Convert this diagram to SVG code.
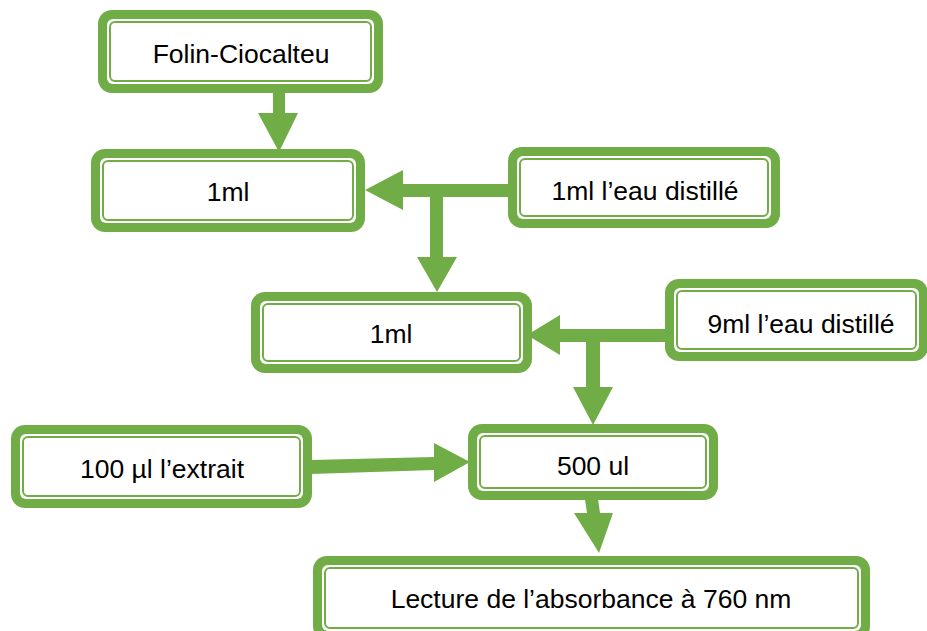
<svg xmlns="http://www.w3.org/2000/svg" width="927" height="631" viewBox="0 0 927 631">
<style>
.o{fill:#70AD47}
.w{fill:#ffffff}
.i{fill:#ffffff;stroke:#70AD47;stroke-width:2}
.c{fill:#70AD47}
text{font-family:"Liberation Sans",Arial,sans-serif;font-size:26.5px;fill:#000;text-anchor:middle}
</style>
<rect width="927" height="631" fill="#ffffff"/>
<g id="connectors">
<polygon class="c" points="273,92 285,92 285,113 298,113 279,152 258,113 273,113"/>
<polygon class="c" points="509,184 509,197 403,197 403,210 365,190 403,170 403,184"/>
<polygon class="c" points="430,190 443,190 443,257 457,257 437,292 417,257 430,257"/>
<polygon class="c" points="666,329 666,342 560,342 560,355 527,335 560,315 560,329"/>
<polygon class="c" points="586,335 600,335 600,387 613,387 593,425 573,387 586,387"/>
<polygon class="c" points="311,460 434,457 434,443 470,462 434,482 434,470 311,474"/>
<polygon class="c" points="585,499 598,499 600,513 613,513 599,553 574,513 587,513"/>
</g>
<g id="n1">
<rect class="o" x="98" y="10" width="285" height="83" rx="14"/>
<rect class="w" x="107" y="19" width="267" height="65" rx="6"/>
<rect class="i" x="110" y="22" width="261" height="59" rx="5"/>
<text x="241" y="63">Folin-Ciocalteu</text>
</g>
<g id="n2">
<rect class="o" x="91" y="149" width="274" height="83" rx="14"/>
<rect class="w" x="100" y="158" width="256" height="65" rx="6"/>
<rect class="i" x="103" y="161" width="250" height="59" rx="5"/>
<text x="228" y="201">1ml</text>
</g>
<g id="n3">
<rect class="o" x="508" y="147" width="272" height="81" rx="14"/>
<rect class="w" x="517" y="156" width="254" height="63" rx="6"/>
<rect class="i" x="520" y="159" width="248" height="57" rx="5"/>
<text x="645" y="200">1ml l’eau distillé</text>
</g>
<g id="n4">
<rect class="o" x="251" y="292" width="281" height="81" rx="14"/>
<rect class="w" x="260" y="301" width="263" height="63" rx="6"/>
<rect class="i" x="263" y="304" width="257" height="57" rx="5"/>
<text x="391" y="343">1ml</text>
</g>
<g id="n5">
<rect class="o" x="665" y="279" width="263" height="82" rx="14"/>
<rect class="w" x="674" y="288" width="245" height="64" rx="6"/>
<rect class="i" x="677" y="291" width="239" height="58" rx="5"/>
<text x="801" y="333">9ml l’eau distillé</text>
</g>
<g id="n6">
<rect class="o" x="11" y="425" width="301" height="83" rx="14"/>
<rect class="w" x="20" y="434" width="283" height="65" rx="6"/>
<rect class="i" x="23" y="437" width="277" height="59" rx="5"/>
<text x="162" y="478">100 µl l’extrait</text>
</g>
<g id="n7">
<rect class="o" x="468" y="424" width="250" height="76" rx="14"/>
<rect class="w" x="477" y="433" width="232" height="58" rx="6"/>
<rect class="i" x="480" y="436" width="226" height="52" rx="5"/>
<text x="593" y="475">500 ul</text>
</g>
<g id="n8">
<rect class="o" x="313" y="556" width="557" height="84" rx="14"/>
<rect class="w" x="322" y="565" width="539" height="66" rx="6"/>
<rect class="i" x="325" y="568" width="533" height="60" rx="5"/>
<text x="591" y="608">Lecture de l’absorbance à 760 nm</text>
</g>
</svg>
